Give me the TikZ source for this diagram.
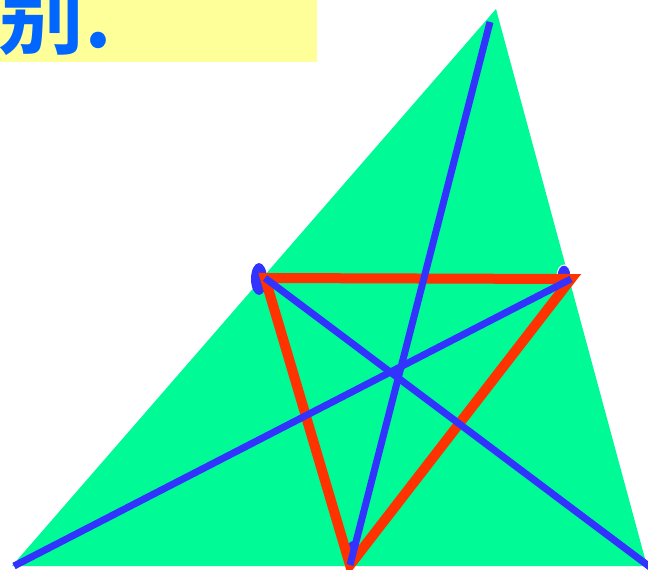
\documentclass[tikz,border=0pt]{standalone}
\usepackage{fontspec}
\newfontfamily\cjk{Noto Sans CJK SC}[BoldFont={* Bold}]
\definecolor{bgyellow}{HTML}{FFFF99}
\definecolor{titleblue}{HTML}{0066FF}
\definecolor{trigreen}{HTML}{00FA96}
\definecolor{redline}{HTML}{FF3300}
\definecolor{blueline}{HTML}{3333FF}
\tikzset{
  redseg/.style={draw=redline, line width=10pt, line join=miter},
  blueseg/.style={draw=blueline, line width=7pt, line cap=butt},
  dotmark/.style={fill=blueline},
}
\begin{document}
\begin{tikzpicture}[x=1pt,y=-1pt]
\useasboundingbox (0,0) rectangle (648,570);
\clip (0,0) rectangle (648,570);
\fill[bgyellow] (0,0) rectangle (317,62);
\node[anchor=base west, inner sep=0, text=titleblue, font=\cjk\bfseries\fontsize{86}{86}\selectfont] (title) at (-2,47) {别.};
\coordinate (A) at (496,9);
\coordinate (B) at (12,566);
\coordinate (C) at (647,566);
\fill[trigreen] (A) -- (B) -- (C) -- cycle;
\coordinate (P) at (265,278);
\coordinate (Q) at (571,279);
\coordinate (R) at (350,565);
\coordinate (At) at (490,22);
\coordinate (Bt) at (14,566);
\coordinate (Ct) at (650,567);
\fill[dotmark] (259,279) ellipse [x radius=8, y radius=16];
\filldraw[fill=blueline, draw=white, line width=1pt] (564,276) ellipse [x radius=7, y radius=11];
\fill[dotmark] (353,553) ellipse [x radius=7, y radius=12];
\draw[redseg] (P) -- (Q) -- (R) -- cycle;
\draw[blueseg] (At) -- (R);
\draw[blueseg] (Bt) -- (Q);
\draw[blueseg] (P) -- (Ct);
\end{tikzpicture}
\end{document}
